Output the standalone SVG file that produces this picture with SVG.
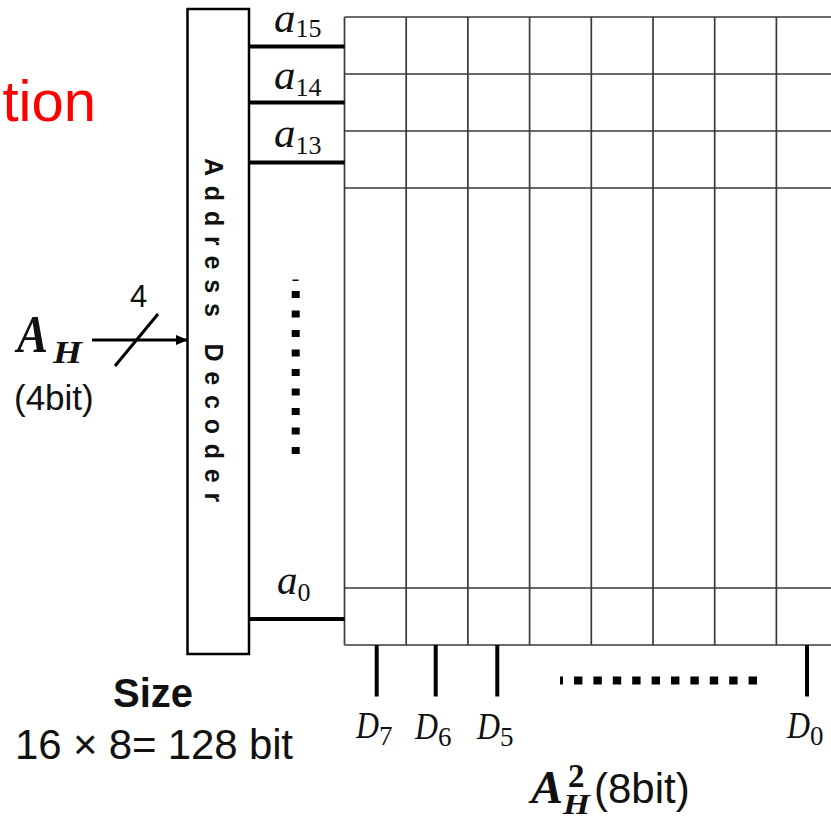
<svg xmlns="http://www.w3.org/2000/svg" width="831" height="819" viewBox="0 0 831 819">
<style>
.grid{stroke:#3a3a3a;stroke-width:1.7;fill:none}
.thick{stroke:#000;stroke-width:4;fill:none}
.math{font-family:"Liberation Serif","DejaVu Serif",serif;font-style:italic;fill:#111}
.sans{font-family:"Liberation Sans",Arial,sans-serif;fill:#111}
.dots{stroke:#000;fill:none}
</style>
<defs>
<marker id="arr" markerWidth="12" markerHeight="10" refX="12" refY="5" orient="auto" markerUnits="userSpaceOnUse">
<path d="M0,0 L12,5 L0,10 Z" fill="#000"/>
</marker>
</defs>
<rect width="831" height="819" fill="#fff"/>

<text x="96" y="121" text-anchor="end" font-family="'Liberation Sans',Arial,sans-serif" font-size="58" fill="#ff0000">tion</text>

<g id="decoder">
<rect x="187.5" y="9" width="61.5" height="645" fill="#fff" stroke="#000" stroke-width="2.5"/>
<text transform="translate(205,158) rotate(90)" class="sans" font-size="25" font-weight="bold" letter-spacing="9.8">Address Decoder</text>
</g>

<g id="input">
<text x="17" y="352" font-family="'Liberation Serif',serif" font-style="italic" font-weight="bold" font-size="52" textLength="31" lengthAdjust="spacingAndGlyphs" fill="#111">A</text>
<text x="53" y="363" font-family="'Liberation Serif',serif" font-style="italic" font-weight="bold" font-size="32" textLength="29" lengthAdjust="spacingAndGlyphs" fill="#111">H</text>
<text x="14" y="410" class="sans" font-size="35">(4bit)</text>
<text x="130" y="307" class="sans" font-size="31">4</text>
</g>

<g id="memory-array">
<path class="grid" d="M344.5,17H831M344.5,74H831M344.5,131H831M344.5,188H831M344.5,588H831M344.5,645H831"/>
<path class="grid" d="M344.5,17V645M406.2,17V645M467.9,17V645M529.6,17V645M591.3,17V645M653,17V645M714.7,17V645M776.4,17V645"/>
</g>

<g id="connectors">
<line x1="92" y1="340" x2="188" y2="340" stroke="#000" stroke-width="3" marker-end="url(#arr)"/>
<line x1="115" y1="366" x2="158" y2="314" stroke="#000" stroke-width="3"/>
<path class="thick" d="M249,46.5H344.5M249,102.5H344.5M249,162.5H344.5M249,619H344.5"/>
<path class="thick" d="M376.7,645V696.5M435.7,645V696.5M497.3,645V696.5M807,645V696.5"/>
</g>

<g id="row-labels">
<text class="math" x="274" y="32" font-size="43">a<tspan font-size="26" dy="5" font-style="normal">15</tspan></text>
<text class="math" x="274" y="89" font-size="43">a<tspan font-size="26" dy="7" font-style="normal">14</tspan></text>
<text class="math" x="274" y="147" font-size="43">a<tspan font-size="26" dy="7" font-style="normal">13</tspan></text>
<text class="math" x="277" y="594" font-size="41">a<tspan font-size="26" dy="7" font-style="normal">0</tspan></text>
</g>

<g id="ellipsis-v">
<line class="dots" x1="295.7" y1="291" x2="295.7" y2="454" stroke-width="8" stroke-dasharray="7 12.5"/>
<rect x="292.5" y="279.5" width="6" height="1.5" fill="#000"/>
</g>
<g id="ellipsis-h">
<line class="dots" x1="574" y1="680.5" x2="757" y2="680.5" stroke-width="8" stroke-dasharray="8.4 11"/>
<rect x="560" y="676.5" width="3" height="8" fill="#000"/>
</g>

<g id="data-labels">
<text class="math" x="356" y="738" font-size="37"><tspan textLength="23" lengthAdjust="spacingAndGlyphs">D</tspan><tspan font-size="27" dy="7" font-style="normal">7</tspan></text>
<text class="math" x="415" y="739" font-size="37"><tspan textLength="23" lengthAdjust="spacingAndGlyphs">D</tspan><tspan font-size="27" dy="7" font-style="normal">6</tspan></text>
<text class="math" x="477" y="739" font-size="37"><tspan textLength="23" lengthAdjust="spacingAndGlyphs">D</tspan><tspan font-size="27" dy="7" font-style="normal">5</tspan></text>
<text class="math" x="787" y="738" font-size="37"><tspan textLength="23" lengthAdjust="spacingAndGlyphs">D</tspan><tspan font-size="27" dy="7" font-style="normal">0</tspan></text>
</g>

<g id="output-label">
<text x="531" y="803" font-family="'Liberation Serif',serif" font-style="italic" font-weight="bold" font-size="47" textLength="32" lengthAdjust="spacingAndGlyphs" fill="#111">A</text>
<text x="568" y="787" font-family="'Liberation Serif',serif" font-weight="bold" font-size="33" fill="#111">2</text>
<text x="563" y="814" font-family="'Liberation Serif',serif" font-style="italic" font-weight="bold" font-size="30" textLength="27" lengthAdjust="spacingAndGlyphs" fill="#111">H</text>
<text x="594" y="803" class="sans" font-size="42">(8bit)</text>
</g>

<g id="size">
<text x="113" y="707" class="sans" font-size="40" font-weight="bold">Size</text>
<text x="15" y="759" class="sans" font-size="42" textLength="278" lengthAdjust="spacing">16 × 8= 128 bit</text>
</g>
</svg>
